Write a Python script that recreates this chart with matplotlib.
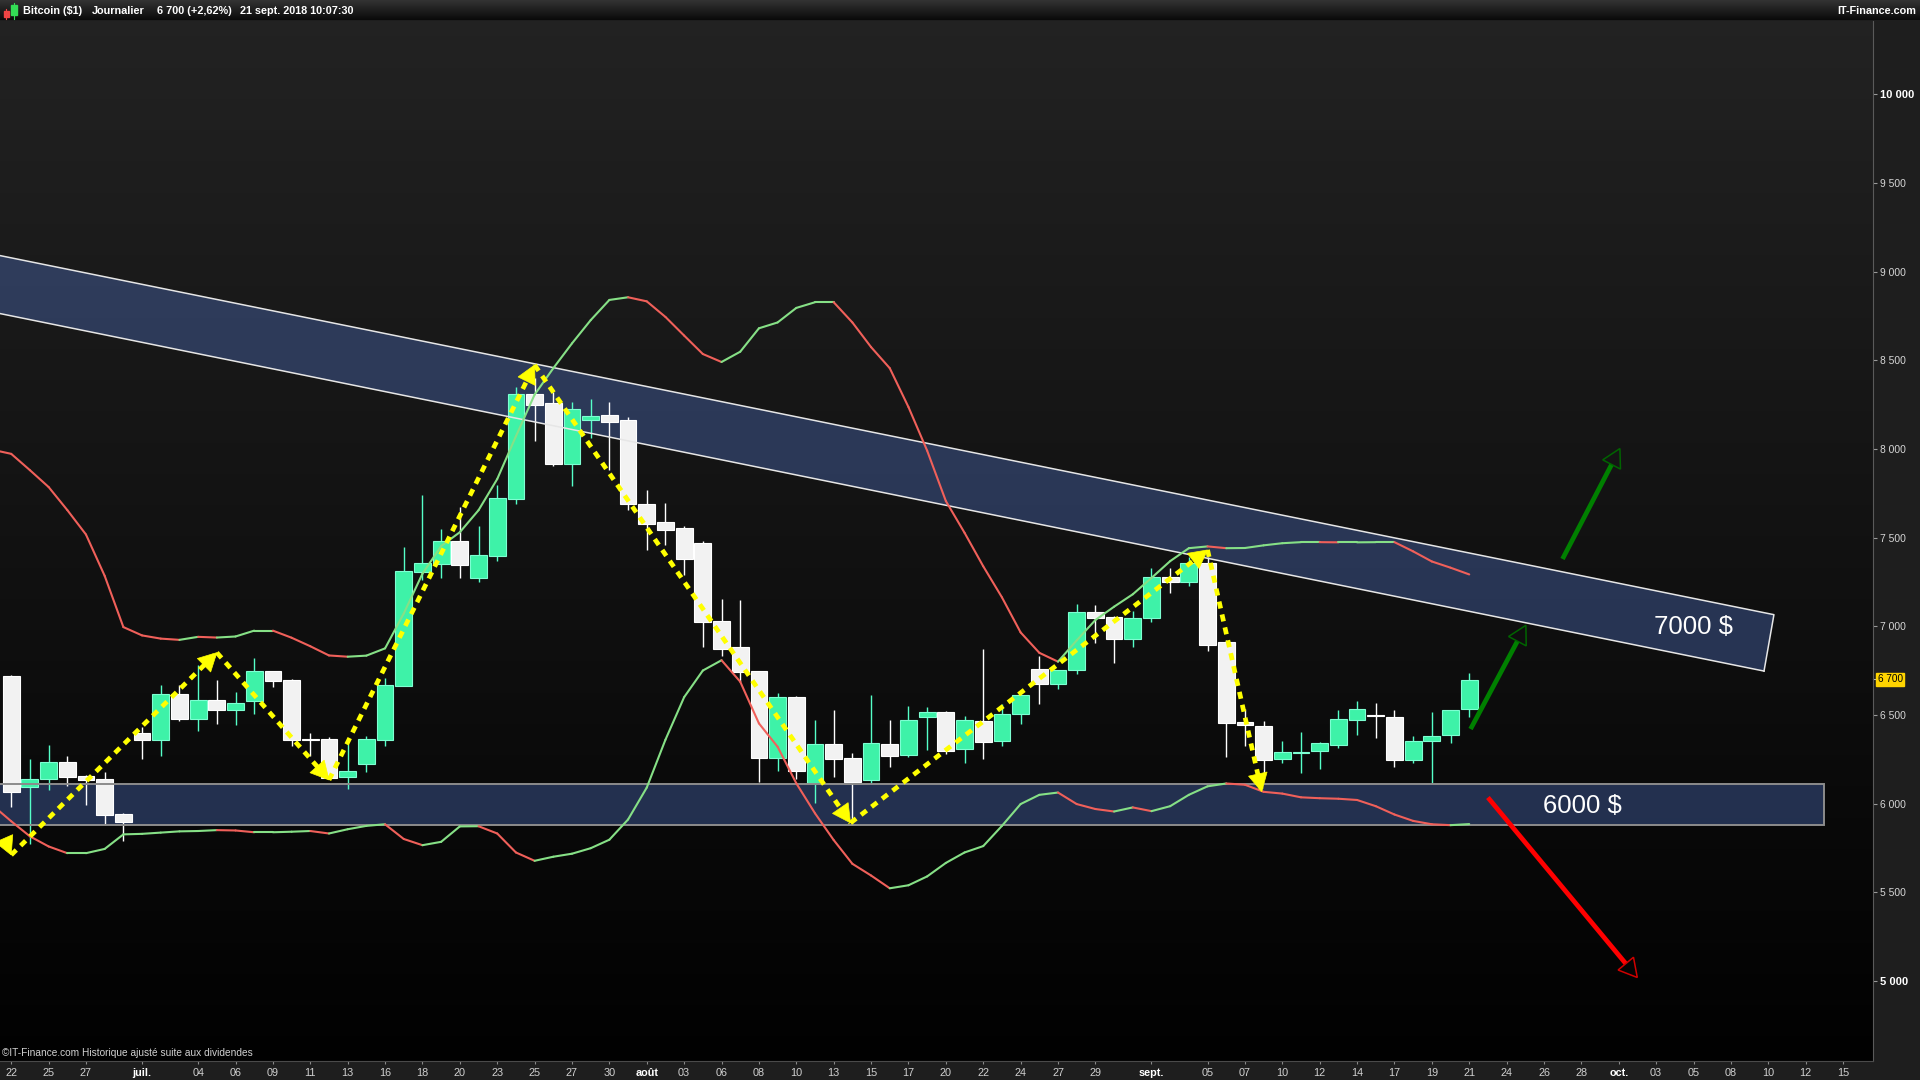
import numpy as np
import pandas as pd
import matplotlib
matplotlib.use("Agg")
import matplotlib.pyplot as plt
from matplotlib.patches import Rectangle, Polygon
from matplotlib.collections import LineCollection
from matplotlib.transforms import IdentityTransform, blended_transform_factory

# ---------------------------------------------------------------- data
first_day = "2018-06-22"          # first candle
env_first_day = "2018-06-21"      # first value of the envelope lines

opens = [6720, 6095, 6140, 6235, 6155, 6138, 5940, 6398, 6357, 6618,
         6478, 6584, 6529, 6580, 6748, 6697, 6362, 6364, 6151, 6225,
         6360, 6665, 7307, 7353, 7479, 7274, 7398, 7720, 8310, 8259,
         7917, 8165, 8192, 8163, 7689, 7586, 7554, 7470, 7029, 6883,
         6747, 6258, 6601, 6114, 6334, 6255, 6131, 6334, 6272, 6489,
         6514, 6306, 6464, 6351, 6503, 6757, 6676, 6751, 7078, 7050,
         6929, 7048, 7276, 7251, 7355, 6911, 6460, 6435, 6249, 6285,
         6294, 6332, 6473, 6497, 6486, 6244, 6351, 6385, 6531]
highs = [6725, 6250, 6330, 6268, 6160, 6178, 5945, 6431, 6668, 6668,
         6781, 6697, 6630, 6821, 6750, 6705, 6398, 6375, 6336, 6381,
         6708, 7445, 7740, 7548, 7672, 7565, 7795, 8351, 8400, 8320,
         8265, 8281, 8265, 8178, 7768, 7695, 7565, 7480, 7155, 7147,
         6750, 6624, 6605, 6472, 6527, 6283, 6612, 6472, 6550, 6543,
         6522, 6495, 6871, 6561, 6612, 6832, 6755, 7124, 7120, 7055,
         7087, 7327, 7327, 7392, 7389, 6920, 6531, 6464, 6353, 6404,
         6345, 6527, 6578, 6567, 6527, 6381, 6514, 6528, 6734]
lows = [5982, 5770, 6077, 6100, 5993, 5880, 5790, 6253, 6270, 6467,
        6411, 6450, 6444, 6506, 6659, 6326, 6270, 6140, 6084, 6180,
        6326, 6660, 7260, 7272, 7272, 7251, 7370, 7690, 8046, 7905,
        7793, 8062, 7881, 7657, 7431, 7460, 7287, 6885, 6832, 6687,
        6123, 6185, 6140, 6005, 6151, 5880, 6114, 6208, 6261, 6302,
        6280, 6230, 6249, 6326, 6450, 6563, 6647, 6732, 6907, 6794,
        6884, 7025, 7189, 7228, 6858, 6264, 6326, 6150, 6227, 6174,
        6196, 6315, 6388, 6371, 6207, 6227, 6114, 6339, 6486]
closes = [6065, 6140, 6235, 6150, 6135, 5937, 5897, 6360, 6618, 6478,
          6584, 6529, 6567, 6748, 6693, 6360, 6360, 6146, 6184, 6364,
          6668, 7310, 7357, 7479, 7347, 7400, 7723, 8310, 8250, 7917,
          8224, 8186, 8153, 7691, 7578, 7544, 7381, 7021, 6873, 6744,
          6258, 6601, 6185, 6334, 6253, 6123, 6339, 6270, 6469, 6514,
          6298, 6469, 6349, 6503, 6610, 6676, 6751, 7078, 7048, 6929,
          7045, 7276, 7251, 7355, 6896, 6456, 6441, 6247, 6289, 6290,
          6339, 6475, 6531, 6493, 6244, 6351, 6379, 6525, 6695]

upper_env = [7995, 7972, 7880, 7785, 7655, 7517, 7284, 6995, 6948, 6930,
             6923, 6940, 6936, 6942, 6975, 6975, 6935, 6887, 6835, 6828,
             6834, 6875, 7072, 7296, 7452, 7530, 7654, 7830, 8071, 8306,
             8455, 8595, 8726, 8840, 8855, 8832, 8744, 8639, 8535, 8490,
             8548, 8680, 8713, 8795, 8827, 8827, 8713, 8574, 8455, 8236,
             7990, 7706, 7527, 7338, 7163, 6965, 6850, 6800, 6920, 7035,
             7110, 7180, 7272, 7367, 7440, 7450, 7440, 7441, 7456, 7468,
             7474, 7474, 7473, 7473, 7474, 7474, 7422, 7365, 7330, 7292]
lower_env = [5990, 5900, 5815, 5758, 5720, 5720, 5744, 5826, 5829, 5836,
             5843, 5845, 5850, 5848, 5838, 5838, 5841, 5845, 5831, 5855,
             5874, 5883, 5800, 5765, 5784, 5871, 5872, 5831, 5724, 5677,
             5700, 5717, 5748, 5796, 5910, 6090, 6360, 6600, 6750, 6808,
             6687, 6452, 6320, 6114, 5945, 5794, 5660, 5594, 5522, 5539,
             5589, 5665, 5724, 5760, 5874, 5997, 6049, 6062, 5997, 5969,
             5955, 5978, 5957, 5985, 6049, 6097, 6113, 6106, 6066, 6056,
             6035, 6030, 6027, 6020, 5985, 5938, 5902, 5883, 5878, 5884]

x_tick_days = ["2018-06-22", "2018-06-25", "2018-06-27", "2018-07-01", "2018-07-04",
               "2018-07-06", "2018-07-09", "2018-07-11", "2018-07-13", "2018-07-16",
               "2018-07-18", "2018-07-20", "2018-07-23", "2018-07-25", "2018-07-27",
               "2018-07-30", "2018-08-01", "2018-08-03", "2018-08-06", "2018-08-08",
               "2018-08-10", "2018-08-13", "2018-08-15", "2018-08-17", "2018-08-20",
               "2018-08-22", "2018-08-24", "2018-08-27", "2018-08-29", "2018-09-02",
               "2018-09-05", "2018-09-07", "2018-09-10", "2018-09-12", "2018-09-14",
               "2018-09-17", "2018-09-19", "2018-09-21", "2018-09-24", "2018-09-26",
               "2018-09-28", "2018-10-01", "2018-10-03", "2018-10-05", "2018-10-08",
               "2018-10-10", "2018-10-12", "2018-10-15"]
x_tick_labels = ["22", "25", "27", "juil.", "04", "06", "09", "11", "13", "16",
                 "18", "20", "23", "25", "27", "30", "août", "03", "06", "08",
                 "10", "13", "15", "17", "20", "22", "24", "27", "29", "sept.",
                 "05", "07", "10", "12", "14", "17", "19", "21", "24", "26",
                 "28", "oct.", "03", "05", "08", "10", "12", "15"]
month_labels = ["juil.", "août", "sept.", "oct."]

price_ticks = [5000, 5500, 6000, 6500, 7000, 7500, 8000, 8500, 9000, 9500, 10000]
price_tick_labels = ["5 000", "5 500", "6 000", "6 500", "7 000", "7 500",
                     "8 000", "8 500", "9 000", "9 500", "10 000"]
bold_price_labels = ["5 000", "10 000"]
last_price = 6700
last_price_label = "6 700"

title_parts = ["Bitcoin ($1)", "Journalier", "6 700 (+2,62%)", "21 sept. 2018 10:07:30"]
footer_text = "©IT-Finance.com Historique ajusté suite aux dividendes"
brand_text = "IT-Finance.com"

# drawn annotations (bar index, price)
zigzag_x = [-1.2, 0.0, 11.0, 17.0, 28.0, 44.9, 64.0, 66.9]
zigzag_y = [6000, 5710, 6851, 6133, 8473, 5891, 7430, 6067]
channel_x = [-2.0, 94.3, 93.77, -2.0]
channel_y = [9120, 7065, 6747, 8793]
support_x = [-1.5, 97.0]
support_y = [5877, 6108]
green_arrows = [((78.07, 6420), (81.03, 7005)), ((82.99, 7379), (86.06, 8002))]
red_arrows = [((79.0, 6034), (86.99, 5019))]
zone_labels = ["7000 $", "6000 $"]
zone_label_x = [90.0, 84.03]
zone_label_y = [6957, 5947]

# ---------------------------------------------------------------- positions
calendar = pd.date_range("2018-06-01", "2018-10-31")
calendar = calendar[calendar.dayofweek != 5]          # no Saturday bars
cal_index = {d.strftime("%Y-%m-%d"): i for i, d in enumerate(calendar)}
origin = cal_index[first_day]


def bar_pos(day):
    return cal_index[day] - origin


candle_x = np.arange(len(opens)) + bar_pos(first_day)
env_x = np.arange(len(upper_env)) + bar_pos(env_first_day)
tick_x = [bar_pos(d) for d in x_tick_days]

# ---------------------------------------------------------------- figure
W, H = 1920, 1080
FONT = ["Liberation Sans", "DejaVu Sans"]
plt.rcParams["font.family"] = FONT

fig = plt.figure(figsize=(W / 100, H / 100), dpi=100, facecolor="#1e1e1e")
ax = fig.add_axes([0, 19 / H, 1873 / W, 1040 / H])
ax.set_facecolor("black")

# background gradient
grad = np.linspace(0.135, 0.005, 256)
img = np.dstack([grad, grad, grad]).reshape(256, 1, 3)
ax.imshow(img, extent=[0, 1, 0, 1], transform=ax.transAxes, aspect="auto",
          zorder=0, interpolation="bilinear")
ax.set_xlim(-0.6, 99.6)
ax.set_ylim(4548, 10413)

# bands
band_col = (0.353, 0.51, 0.88)
ax.add_patch(Polygon(list(zip(channel_x, channel_y)), closed=True, facecolor=band_col,
                     alpha=0.33, edgecolor="none", zorder=1))
ax.plot(channel_x[:3], channel_y[:3], color="#e6e6e6", lw=1.1, zorder=3.5)
ax.plot(channel_x[2:], channel_y[2:], color="#e6e6e6", lw=1.1, zorder=3.5)
sup_poly = [(support_x[0], support_y[0]), (support_x[1], support_y[0]),
            (support_x[1], support_y[1]), (support_x[0], support_y[1])]
ax.add_patch(Polygon(sup_poly, closed=True, facecolor=band_col, alpha=0.33,
                     edgecolor="none", zorder=1))
ax.add_patch(Polygon(sup_poly, closed=True, fill=False, edgecolor="#8c8c8c",
                     lw=1.4, zorder=3.5))

# candles
body_w = 0.9
for x, o, h, l, c in zip(candle_x, opens, highs, lows, closes):
    up = c >= o
    fc = "#3ef2a8" if up else "#f2f2f2"
    ec = "#7dffd2" if up else "#ffffff"
    wc = "#55ffc8" if up else "#ffffff"
    ax.plot([x, x], [l, h], color=wc, lw=1.0, zorder=2, solid_capstyle="butt")
    lo, hi = min(o, c), max(o, c)
    ax.add_patch(Rectangle((x - body_w / 2, lo), body_w, max(hi - lo, 3), facecolor=fc,
                           edgecolor=ec, lw=0.8, zorder=3))


# envelope lines coloured by direction
def env_line(xs, ys):
    pts = np.column_stack([xs, ys])
    segs = np.stack([pts[:-1], pts[1:]], axis=1)
    cols = ["#86e086" if ys[i + 1] >= ys[i] else "#f0605a" for i in range(len(ys) - 1)]
    ax.add_collection(LineCollection(segs, colors=cols, linewidths=1.5, zorder=4,
                                     capstyle="round", joinstyle="round"))


env_line(env_x, upper_env)
env_line(env_x, lower_env)


# arrow heads in pixel space
def head(p_from, p_to, length, width, fc, ec, lw):
    a = ax.transData.transform(p_from)
    b = ax.transData.transform(p_to)
    d = (b - a) / np.hypot(*(b - a))
    n = np.array([-d[1], d[0]])
    base = b - d * length
    tri = [b, base + n * width / 2, base - n * width / 2]
    ax.add_patch(Polygon(tri, closed=True, transform=IdentityTransform(), facecolor=fc,
                         edgecolor=ec, lw=lw, zorder=6))
    return ax.transData.inverted().transform(base)


# yellow zigzag
for i in range(len(zigzag_x) - 1):
    p0 = (zigzag_x[i], zigzag_y[i])
    p1 = (zigzag_x[i + 1], zigzag_y[i + 1])
    if i > 0:
        ax.plot([p0[0], p1[0]], [p0[1], p1[1]], color="#ffff00", lw=3.4,
                dashes=(1.5, 1.3), solid_capstyle="butt", dash_capstyle="butt", zorder=5)
    head(p0, p1, 18, 19, "#ffff00", "#ffff00", 0.5)

# green / red arrows
for arrows, shaft, edge in [(green_arrows, "#008000", "#006400"),
                            (red_arrows, "#ff0000", "#d00000")]:
    for tail, tip in arrows:
        base = head(tail, tip, 18, 20, "none", edge, 1.1)
        ax.plot([tail[0], base[0]], [tail[1], base[1]], color=shaft, lw=3.4,
                solid_capstyle="butt", zorder=5)

# zone labels
for t, x, y in zip(zone_labels, zone_label_x, zone_label_y):
    ax.text(x, y, t, ha="center", va="baseline", fontsize=18.5, color="white", zorder=7)

# axes styling
for s in ["top", "left"]:
    ax.spines[s].set_visible(False)
ax.spines["right"].set_color("#5a5a5a")
ax.spines["bottom"].set_color("#4a4a4a")
ax.yaxis.tick_right()
ax.set_yticks(price_ticks)
ax.set_yticklabels(price_tick_labels)
ax.tick_params(axis="y", length=3, width=0.8, color="#9a9a9a", labelcolor="#d6d6d6",
               labelsize=7.4, pad=2)
for lab in ax.get_yticklabels():
    if lab.get_text() in bold_price_labels:
        lab.set_fontweight("bold")
        lab.set_color("white")
        lab.set_fontsize(8)
ax.set_xticks(tick_x)
ax.set_xticklabels(x_tick_labels)
ax.tick_params(axis="x", length=2.4, width=0.8, color="#8a8a8a", labelcolor="#d0d0d0",
               labelsize=7.8, pad=3)
for lab in ax.get_xticklabels():
    if lab.get_text() in month_labels:
        lab.set_fontweight("bold")
        lab.set_color("white")

# last price marker
bt = blended_transform_factory(ax.transAxes, ax.transData)
ax.plot([1.0, 1.0025], [last_price, last_price], transform=bt, color="#bbbbbb",
        lw=0.8, clip_on=False)
ax.text(1.0025, last_price, last_price_label, transform=bt, ha="left", va="center",
        fontsize=7.2, color="black", clip_on=False,
        bbox=dict(boxstyle="square,pad=0.12", fc="#ffd400", ec="#ffd400"))

# footer inside plot
fig.text(2 / W, 1 - 1053 / H, footer_text, ha="left", va="center", fontsize=7.3,
         color="#d0d0d0")

# title bar
tax = fig.add_axes([0, 1 - 20 / H, 1, 20 / H])
tg = np.linspace(0.2, 0.04, 32)
tax.imshow(np.dstack([tg, tg, tg]).reshape(32, 1, 3), extent=[0, 1, 0, 1],
           aspect="auto", interpolation="bilinear")
tax.set_xlim(0, 1)
tax.set_ylim(0, 1)
tax.axis("off")
title_x = [23, 92, 157, 240]
for t, x in zip(title_parts, title_x):
    fig.text(x / W, 1 - 14.5 / H, t, ha="left", va="baseline", fontsize=7.8,
             fontweight="bold", color="white")
fig.text(1916 / W, 1 - 14.5 / H, brand_text, ha="right", va="baseline", fontsize=7.8,
         fontweight="bold", color="white")
# small candle icon
for (x0, y0, w, h, c, wy0, wy1) in [(3.5, 10.5, 5, 6, "#ee4444", 9, 18.5),
                                   (11, 4.5, 6, 10.5, "#33dd55", 2.5, 18.5)]:
    fig.add_artist(plt.Line2D([x0 + w / 2, x0 + w / 2], [H - wy0, H - wy1], color=c,
                              lw=0.8, transform=IdentityTransform()))
    fig.add_artist(Rectangle((x0, H - y0 - h), w, h, facecolor=c, edgecolor=c,
                             transform=IdentityTransform()))

fig.savefig("out.png", dpi=100, facecolor=fig.get_facecolor())
